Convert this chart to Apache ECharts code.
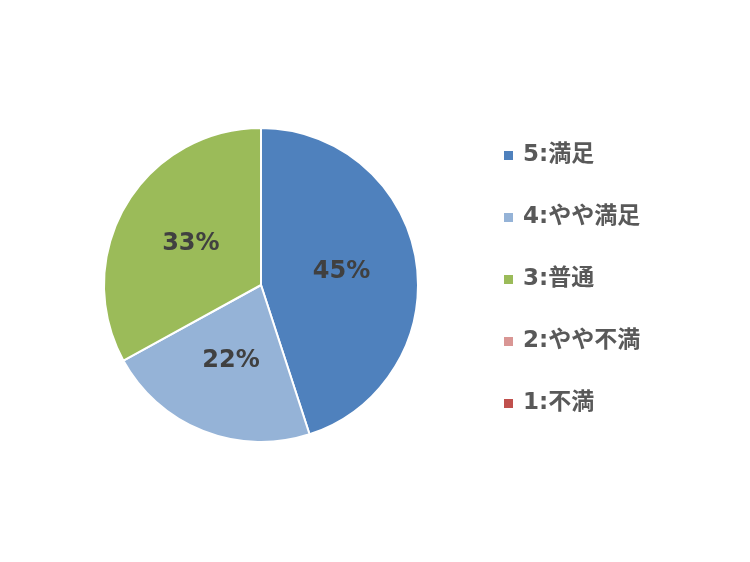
<!DOCTYPE html>
<html>
<head>
<meta charset="utf-8">
<script src="https://cdn.jsdelivr.net/npm/echarts@6/dist/echarts.min.js"></script>
<style>
html,body{margin:0;padding:0;background:#fff;}
#chart{width:750px;height:562px;}
</style>
</head>
<body>
<div id="chart"></div>
<script>
const categories = ['5:満足', '4:やや満足', '3:普通', '2:やや不満', '1:不満'];
const values = [45, 22, 33, 0, 0];
const colors = ['#4F81BD', '#95B3D7', '#9BBB59', '#D99694', '#C0504D'];

const chart = echarts.init(document.getElementById('chart'), null, {renderer: 'canvas'});
const data = categories.map((c, i) => ({
  name: c,
  value: values[i],
  itemStyle: {color: colors[i]},
  label: {show: values[i] > 0}
}));
chart.setOption({
  backgroundColor: '#ffffff',
  animation: false,
  legend: {
    orient: 'vertical',
    left: 497,
    top: 139,
    itemWidth: 11,
    itemHeight: 11,
    itemGap: 39,
    icon: 'rect',
    textStyle: {
      fontFamily: 'DejaVu Sans, "Noto Sans CJK JP", sans-serif',
      fontWeight: 'bold',
      fontSize: 23,
      color: '#595959',
      padding: [0, 0, 0, 4]
    },
    data: categories
  },
  series: [{
    type: 'pie',
    center: [261, 285],
    radius: [0, 157],
    startAngle: 90,
    clockwise: true,
    avoidLabelOverlap: false,
    itemStyle: {borderColor: '#ffffff', borderWidth: 2},
    label: {
      position: 'inside',
      formatter: p => p.value + '%',
      fontFamily: 'DejaVu Sans, sans-serif',
      fontWeight: 'bold',
      fontSize: 24,
      color: '#404040'
    },
    labelLine: {show: false},
    emphasis: {disabled: true},
    data: data
  }]
});
</script>
</body>
</html>
